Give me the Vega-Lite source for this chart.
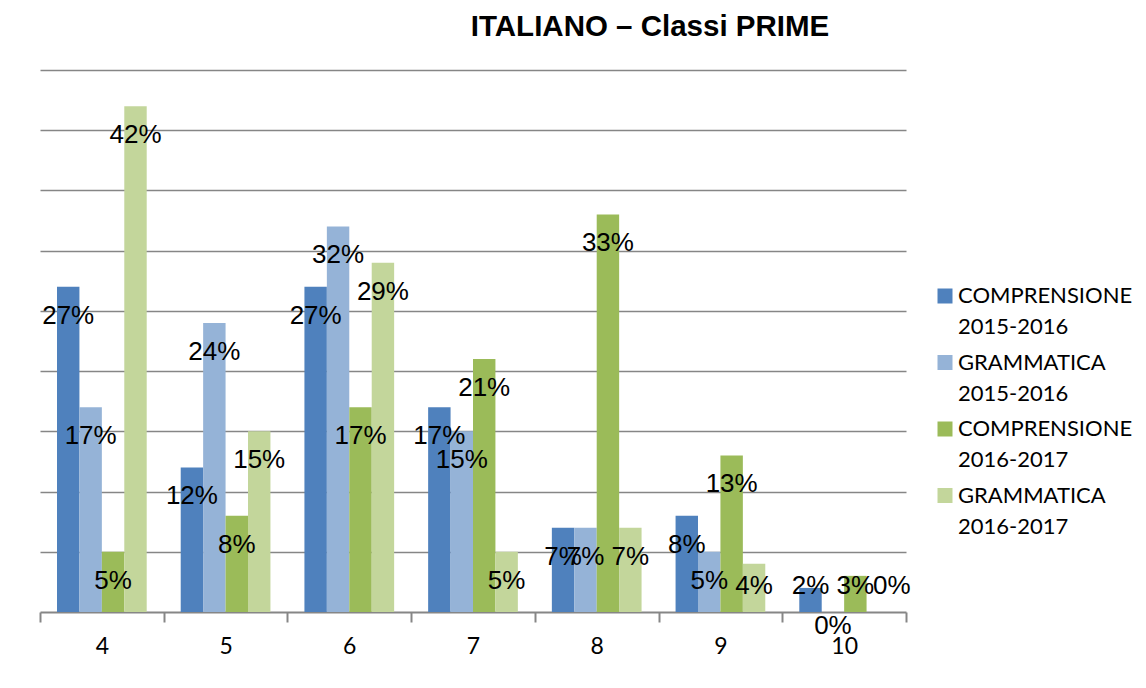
{
  "$schema": "https://vega.github.io/schema/vega-lite/v6.json",
  "width": 866,
  "height": 542,
  "autosize": "none",
  "padding": {"left": 40, "top": 70, "right": 240, "bottom": 76},
  "background": "#ffffff",
  "title": {
    "text": "ITALIANO – Classi PRIME",
    "font": "Liberation Sans",
    "fontSize": 29.5,
    "fontWeight": "bold",
    "color": "#000000",
    "anchor": "middle",
    "dx": 177,
    "offset": 28
  },
  "config": {"view": {"stroke": null}},
  "data": {
    "values": [
      {"voto": 4, "serie": "COMPRENSIONE 2015-2016", "valore": 0.27},
      {"voto": 4, "serie": "GRAMMATICA 2015-2016", "valore": 0.17},
      {"voto": 4, "serie": "COMPRENSIONE 2016-2017", "valore": 0.05},
      {"voto": 4, "serie": "GRAMMATICA 2016-2017", "valore": 0.42},
      {"voto": 5, "serie": "COMPRENSIONE 2015-2016", "valore": 0.12},
      {"voto": 5, "serie": "GRAMMATICA 2015-2016", "valore": 0.24},
      {"voto": 5, "serie": "COMPRENSIONE 2016-2017", "valore": 0.08},
      {"voto": 5, "serie": "GRAMMATICA 2016-2017", "valore": 0.15},
      {"voto": 6, "serie": "COMPRENSIONE 2015-2016", "valore": 0.27},
      {"voto": 6, "serie": "GRAMMATICA 2015-2016", "valore": 0.32},
      {"voto": 6, "serie": "COMPRENSIONE 2016-2017", "valore": 0.17},
      {"voto": 6, "serie": "GRAMMATICA 2016-2017", "valore": 0.29},
      {"voto": 7, "serie": "COMPRENSIONE 2015-2016", "valore": 0.17},
      {"voto": 7, "serie": "GRAMMATICA 2015-2016", "valore": 0.15},
      {"voto": 7, "serie": "COMPRENSIONE 2016-2017", "valore": 0.21},
      {"voto": 7, "serie": "GRAMMATICA 2016-2017", "valore": 0.05},
      {"voto": 8, "serie": "COMPRENSIONE 2015-2016", "valore": 0.07},
      {"voto": 8, "serie": "GRAMMATICA 2015-2016", "valore": 0.07},
      {"voto": 8, "serie": "COMPRENSIONE 2016-2017", "valore": 0.33},
      {"voto": 8, "serie": "GRAMMATICA 2016-2017", "valore": 0.07},
      {"voto": 9, "serie": "COMPRENSIONE 2015-2016", "valore": 0.08},
      {"voto": 9, "serie": "GRAMMATICA 2015-2016", "valore": 0.05},
      {"voto": 9, "serie": "COMPRENSIONE 2016-2017", "valore": 0.13},
      {"voto": 9, "serie": "GRAMMATICA 2016-2017", "valore": 0.04},
      {"voto": 10, "serie": "COMPRENSIONE 2015-2016", "valore": 0.02},
      {"voto": 10, "serie": "GRAMMATICA 2015-2016", "valore": 0},
      {"voto": 10, "serie": "COMPRENSIONE 2016-2017", "valore": 0.03},
      {"voto": 10, "serie": "GRAMMATICA 2016-2017", "valore": 0}
    ]
  },
  "transform": [
    {"calculate": "datum.valore == 0 && datum.serie == 'GRAMMATICA 2015-2016' ? -0.0115 : max(datum.valore - 0.024, 0.0215)", "as": "posEtichetta"}
  ],
  "encoding": {
    "x": {
      "field": "voto",
      "type": "ordinal",
      "sort": [4, 5, 6, 7, 8, 9, 10],
      "scale": {"paddingInner": 0, "paddingOuter": 0},
      "axis": {
        "title": null,
        "labelAngle": 0,
        "tickBand": "extent",
        "domainColor": "#868686",
        "domainWidth": 2,
        "tickColor": "#868686",
        "tickWidth": 2,
        "tickSize": 10,
        "labelFont": "Lato",
        "labelFontSize": 23,
        "labelColor": "#000000",
        "labelPadding": 13,
        "grid": false
      }
    },
    "xOffset": {
      "field": "serie",
      "sort": ["COMPRENSIONE 2015-2016", "GRAMMATICA 2015-2016", "COMPRENSIONE 2016-2017", "GRAMMATICA 2016-2017"],
      "scale": {"paddingInner": 0, "paddingOuter": 0.758}
    }
  },
  "layer": [
    {
      "mark": {"type": "bar"},
      "encoding": {
        "y": {
          "field": "valore",
          "type": "quantitative",
          "scale": {"domain": [0, 0.45], "nice": false},
          "axis": {
            "title": null,
            "labels": false,
            "ticks": false,
            "domain": false,
            "grid": true,
            "values": [0.05, 0.1, 0.15, 0.2, 0.25, 0.3, 0.35, 0.4, 0.45],
            "gridColor": "#868686",
            "gridWidth": 1.5
          }
        },
        "color": {
          "field": "serie",
          "type": "nominal",
          "sort": ["COMPRENSIONE 2015-2016", "GRAMMATICA 2015-2016", "COMPRENSIONE 2016-2017", "GRAMMATICA 2016-2017"],
          "scale": {
            "domain": ["COMPRENSIONE 2015-2016", "GRAMMATICA 2015-2016", "COMPRENSIONE 2016-2017", "GRAMMATICA 2016-2017"],
            "range": ["#4F81BD", "#95B3D7", "#9BBB59", "#C3D69B"]
          },
          "legend": {
            "title": null,
            "orient": "none",
            "legendX": 894,
            "legendY": 215,
            "symbolType": "square",
            "symbolSize": 225,
            "symbolStrokeWidth": 0,
            "labelFont": "Lato",
            "labelFontSize": 22,
            "labelColor": "#000000",
            "labelExpr": "split(datum.label, ' ')",
            "labelLimit": 300,
            "labelBaseline": "middle",
            "labelOffset": 2,
            "rowPadding": 13.5,
            "encode": {
              "labels": {
                "update": {
                  "lineHeight": {"value": 31}
                }
              }
            }
          }
        }
      }
    },
    {
      "transform": [{"filter": "!(datum.voto == 10 && datum.serie == 'GRAMMATICA 2016-2017')"}],
      "mark": {
        "type": "text",
        "font": "Liberation Sans",
        "fontSize": 26,
        "color": "#000000",
        "align": "center",
        "baseline": "middle"
      },
      "encoding": {
        "y": {"field": "posEtichetta", "type": "quantitative"},
        "text": {"field": "valore", "type": "quantitative", "format": ".0%"}
      }
    },
    {
      "transform": [{"filter": "datum.voto == 10 && datum.serie == 'GRAMMATICA 2016-2017'"}],
      "mark": {
        "type": "text",
        "font": "Liberation Sans",
        "fontSize": 26,
        "color": "#000000",
        "align": "center",
        "baseline": "middle",
        "dx": 14
      },
      "encoding": {
        "y": {"field": "posEtichetta", "type": "quantitative"},
        "text": {"field": "valore", "type": "quantitative", "format": ".0%"}
      }
    }
  ]
}
